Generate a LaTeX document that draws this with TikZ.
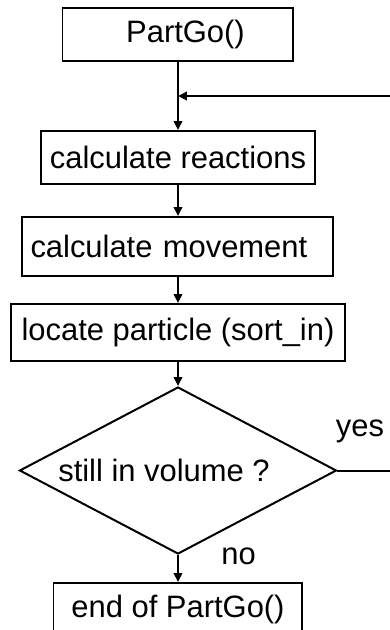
\documentclass[tikz,border=0pt]{standalone}
\usepackage{fontspec}
\setmainfont{Liberation Sans}
\usetikzlibrary{arrows.meta, positioning, shapes.geometric, calc}
\tikzset{
  procbox/.style={draw=black, rectangle, align=center, inner sep=1mm, minimum height=1.06cm, font=\fontsize{17.6}{21}\selectfont, line width=0.04cm, fill=white},
  decision/.style={draw=black, diamond, inner sep=0pt, shape aspect=1.9, minimum width=6.34cm, minimum height=3.34cm, font=\fontsize{17.6}{21}\selectfont, line width=0.04cm},
  flowlabel/.style={inner sep=0pt, font=\fontsize{17.6}{21}\selectfont},
  arrow/.style={-{Triangle[length=0.18cm, width=0.17cm]}, line width=0.04cm, draw=black}
}
\begin{document}
\begin{tikzpicture}
\useasboundingbox (0,0) rectangle (7.78,-12.6);

\node[procbox, minimum width=4.62cm] (partgo) at (3.56,-0.69) {\hspace*{0.3cm}PartGo()};

\node[procbox, below=1.36cm of partgo, minimum width=5.48cm] (reactions) {calculate reactions};

\node[procbox, below=0.62cm of reactions, minimum height=1.18cm, inner xsep=0.16cm, text width=5.9cm, align=left] (movement) {calculate movement};

\node[procbox, below=0.52cm of movement, minimum width=6.68cm, minimum height=1.14cm] (locate) {locate particle (sort\_in)};

\node[decision, below=0.48cm of locate] (check) {still in volume ?\hspace*{0.56cm}};

\node[procbox, below=0.54cm of check, minimum width=4.98cm] (endgo) {end of PartGo()};

\coordinate (join) at ($(partgo.south)!0.5!(reactions.north)$);

\draw[arrow] (partgo) -- (reactions);
\draw[arrow] (reactions) -- (movement);
\draw[arrow] (movement) -- (locate);
\draw[arrow] (locate) -- (check);
\draw[arrow] (check) -- (endgo);
\draw[arrow] (check.east) -- ++(1.2cm,0) |- (join);

\node[flowlabel, anchor=south west] (yes) at ([shift={(-0.04cm,0.54cm)}]check.east) {yes};
\node[flowlabel, anchor=south west] (no) at ([shift={(0.86cm,-0.2cm)}]check.south) {no};

\end{tikzpicture}
\end{document}
